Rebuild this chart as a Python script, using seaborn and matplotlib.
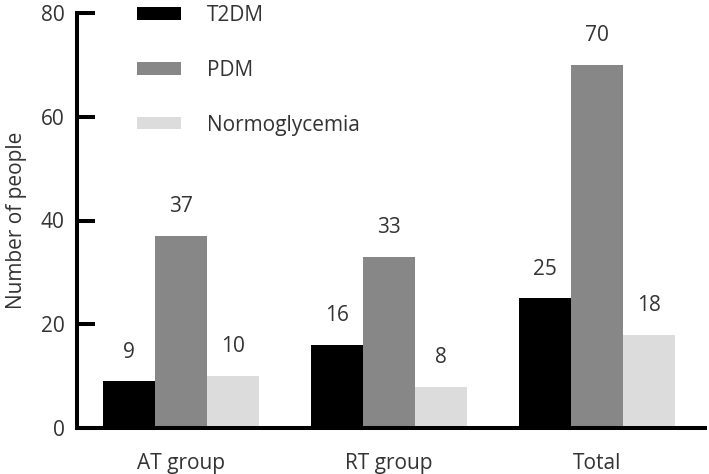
import matplotlib
matplotlib.use("Agg")
import matplotlib.pyplot as plt
import seaborn as sns
import pandas as pd

groups = ["AT group", "RT group", "Total"]
categories = ["T2DM", "PDM", "Normoglycemia"]
t2dm = [9, 16, 25]
pdm = [37, 33, 70]
normo = [10, 8, 18]
colors = ["#000000", "#878787", "#dcdcdc"]

rows = []
for g, a, b, c in zip(groups, t2dm, pdm, normo):
    rows.append((g, "T2DM", a))
    rows.append((g, "PDM", b))
    rows.append((g, "Normoglycemia", c))
df = pd.DataFrame(rows, columns=["group", "category", "value"])

sns.set_style("white")
plt.rcParams["font.family"] = ["Open Sans", "DejaVu Sans"]
plt.rcParams["text.color"] = "#333333"

FS = 15

fig = plt.figure(figsize=(7.09, 4.74), dpi=100)
ax = fig.add_axes([77 / 709, 1 - 428 / 474, (705 - 77) / 709, (428 - 13) / 474])

sns.barplot(data=df, x="group", y="value", hue="category", hue_order=categories,
            order=groups, palette=colors, width=0.75, saturation=1, ax=ax,
            edgecolor="none", linewidth=0, errorbar=None)

for cont in ax.containers:
    for bar in cont:
        h = bar.get_height()
        ax.annotate(f"{int(round(h))}", (bar.get_x() + bar.get_width() / 2, h),
                    xytext=(0, 21), textcoords="offset points",
                    ha="center", va="center", fontsize=FS, color="#333333")

ax.set_xlim(-0.5, 2.52)
ax.set_ylim(0, 80)
ax.set_yticks([0, 20, 40, 60, 80])
sns.despine(ax=ax)
for s in ["left", "bottom"]:
    ax.spines[s].set_linewidth(2.9)
    ax.spines[s].set_color("black")
ax.tick_params(axis="y", direction="in", length=13, width=2.9, pad=9,
               labelsize=FS, labelcolor="#333333", color="black", left=True)
ax.tick_params(axis="x", length=0, pad=18, labelsize=FS, labelcolor="#333333")
ax.set_xlabel("")
ax.set_ylabel("Number of people", fontsize=FS, color="#333333", labelpad=10)

leg = ax.legend(loc="upper left", bbox_to_anchor=(137 / 709, 1 - 5 / 474),
                bbox_transform=fig.transFigure, frameon=False, fontsize=FS,
                handlelength=2.1, handleheight=0.55, labelspacing=1.62,
                handletextpad=1.25, borderpad=0, borderaxespad=0)
for t in leg.get_texts():
    t.set_color("#333333")

fig.savefig("out.png", dpi=100)
